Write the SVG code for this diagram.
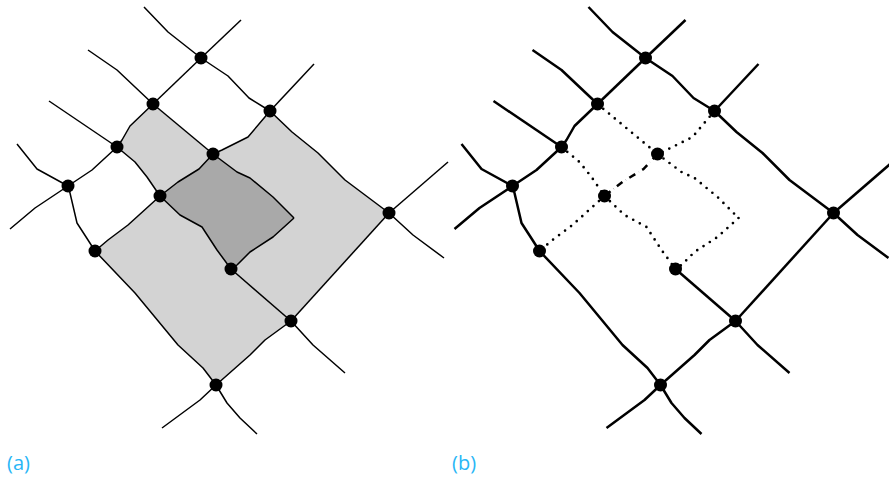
<svg xmlns="http://www.w3.org/2000/svg" xmlns:xlink="http://www.w3.org/1999/xlink" width="889" height="477" viewBox="0 0 889 477">
<style>
.a{fill:none;stroke:#000;stroke-width:1.5;stroke-linejoin:round}
.b{fill:none;stroke:#000;stroke-width:2.5;stroke-linejoin:round}
.dot{fill:none;stroke:#000;stroke-width:2.7;stroke-dasharray:0 7.5;stroke-linecap:round}
.dash{fill:none;stroke:#000;stroke-width:2.5;stroke-dasharray:7 4 0.1 4;stroke-linecap:butt}
.n{fill:#000}
.lbl{font-family:"Open Sans","Noto Sans",sans-serif;font-size:20px;fill:#29b6f6}
</style>
<defs>
<path id="eA1" d="M201,58 L168,32 L144,7"/>
<path id="eA2" d="M201,58 L241,20"/>
<path id="eAB" d="M201,58 L153,104"/>
<path id="eAC" d="M201,58 L228,76 L249,98 L270,111"/>
<path id="eC1" d="M270,111 L314,64"/>
<path id="eB1" d="M153,104 L117,70 L88,50"/>
<path id="eD1" d="M117,147 L49,101"/>
<path id="eBD" d="M153,104 L130,126 L122,140 L117,147"/>
<path id="eBE" d="M153,104 L213,154"/>
<path id="eCE" d="M270,111 L248,137 L222,150 L213,154"/>
<path id="eCH" d="M270,111 L292,132 L318,153 L345,180 L365,195 L389,213"/>
<path id="eH1" d="M389,213 L448,162"/>
<path id="eH2" d="M389,213 L413,235 L444,258"/>
<path id="eDF" d="M117,147 L92,170 L68,186"/>
<path id="eDG" d="M117,147 L135,162 L147,177 L160,196"/>
<path id="eF1" d="M68,186 L37,169 L17,144"/>
<path id="eF2" d="M68,186 L35,208 L10,229"/>
<path id="eFI" d="M68,186 L70,193 L77,223 L88,240 L95,251"/>
<path id="eEG" d="M213,154 L199,169 L178,182 L160,196"/>
<path id="eGI" d="M160,196 L128,225 L108,240 L95,251"/>
<path id="eEX" d="M213,154 L237,172 L250,178 L273,197 L294,218"/>
<path id="eXJ" d="M294,218 L273,237 L250,252 L237,265 L231,269"/>
<path id="eGJ" d="M160,196 L180,215 L202,227 L217,250 L231,269"/>
<path id="eJK" d="M231,269 L291,321"/>
<path id="eHK" d="M389,213 L291,321"/>
<path id="eIL" d="M95,251 L135,293 L178,345 L203,368 L216,385"/>
<path id="eKL" d="M291,321 L265,340 L250,355 L216,385"/>
<path id="eK1" d="M291,321 L313,345 L345,373"/>
<path id="eL1" d="M216,385 L200,400 L162,428"/>
<path id="eL2" d="M216,385 L227,403 L240,418 L257,434"/>
</defs>

<g id="regions">
<polygon fill="#d3d3d3" points="117,147 122,140 130,126 153,104 213,154 222,150 248,137 270,111 292,132 318,153 345,180 365,195 389,213 291,321 265,340 250,355 216,385 203,368 178,345 135,293 95,251 108,240 128,225 160,196 147,177 135,162"/>
<polygon fill="#a9a9a9" points="213,154 237,172 250,178 273,197 294,218 273,237 250,252 237,265 231,269 217,250 202,227 180,215 160,196 178,182 199,169"/>
</g>

<g id="connectors-a" class="a">
<use xlink:href="#eA1"/><use xlink:href="#eA2"/><use xlink:href="#eAB"/><use xlink:href="#eAC"/>
<use xlink:href="#eC1"/><use xlink:href="#eB1"/><use xlink:href="#eD1"/><use xlink:href="#eBD"/>
<use xlink:href="#eBE"/><use xlink:href="#eCE"/><use xlink:href="#eCH"/><use xlink:href="#eH1"/>
<use xlink:href="#eH2"/><use xlink:href="#eDF"/><use xlink:href="#eDG"/><use xlink:href="#eF1"/>
<use xlink:href="#eF2"/><use xlink:href="#eFI"/><use xlink:href="#eEG"/><use xlink:href="#eGI"/>
<use xlink:href="#eEX"/><use xlink:href="#eXJ"/><use xlink:href="#eGJ"/><use xlink:href="#eJK"/>
<use xlink:href="#eHK"/><use xlink:href="#eIL"/><use xlink:href="#eKL"/><use xlink:href="#eK1"/>
<use xlink:href="#eL1"/><use xlink:href="#eL2"/>
</g>

<g id="connectors-b" transform="translate(444.5,0)">
<g class="b">
<use xlink:href="#eA1"/><use xlink:href="#eA2"/><use xlink:href="#eAB"/><use xlink:href="#eAC"/>
<use xlink:href="#eC1"/><use xlink:href="#eB1"/><use xlink:href="#eD1"/><use xlink:href="#eBD"/>
<use xlink:href="#eCH"/><use xlink:href="#eH1"/><use xlink:href="#eH2"/><use xlink:href="#eDF"/>
<use xlink:href="#eF1"/><use xlink:href="#eF2"/><use xlink:href="#eFI"/><use xlink:href="#eJK"/>
<use xlink:href="#eHK"/><use xlink:href="#eIL"/><use xlink:href="#eKL"/><use xlink:href="#eK1"/>
<use xlink:href="#eL1"/><use xlink:href="#eL2"/>
</g>
<g class="dot">
<use xlink:href="#eBE"/><use xlink:href="#eCE"/><use xlink:href="#eDG"/><use xlink:href="#eGI"/>
<use xlink:href="#eEX"/><use xlink:href="#eXJ"/><use xlink:href="#eGJ"/>
</g>
<g class="dash"><use xlink:href="#eEG"/></g>
</g>

<g id="nodes-a" class="n">
<g id="a-A"><circle cx="201" cy="58" r="6.5"/></g>
<g id="a-B"><circle cx="153" cy="104" r="6.5"/></g>
<g id="a-C"><circle cx="270" cy="111" r="6.5"/></g>
<g id="a-D"><circle cx="117" cy="147" r="6.5"/></g>
<g id="a-E"><circle cx="213" cy="154" r="6.5"/></g>
<g id="a-F"><circle cx="68" cy="186" r="6.5"/></g>
<g id="a-G"><circle cx="160" cy="196" r="6.5"/></g>
<g id="a-H"><circle cx="389" cy="213" r="6.5"/></g>
<g id="a-I"><circle cx="95" cy="251" r="6.5"/></g>
<g id="a-J"><circle cx="231" cy="269" r="6.5"/></g>
<g id="a-K"><circle cx="291" cy="321" r="6.5"/></g>
<g id="a-L"><circle cx="216" cy="385" r="6.5"/></g>
</g>

<g id="nodes-b" class="n" transform="translate(444.5,0)">
<g id="b-A"><circle cx="201" cy="58" r="6.5"/></g>
<g id="b-B"><circle cx="153" cy="104" r="6.5"/></g>
<g id="b-C"><circle cx="270" cy="111" r="6.5"/></g>
<g id="b-D"><circle cx="117" cy="147" r="6.5"/></g>
<g id="b-E"><circle cx="213" cy="154" r="6.5"/></g>
<g id="b-F"><circle cx="68" cy="186" r="6.5"/></g>
<g id="b-G"><circle cx="160" cy="196" r="6.5"/></g>
<g id="b-H"><circle cx="389" cy="213" r="6.5"/></g>
<g id="b-I"><circle cx="95" cy="251" r="6.5"/></g>
<g id="b-J"><circle cx="231" cy="269" r="6.5"/></g>
<g id="b-K"><circle cx="291" cy="321" r="6.5"/></g>
<g id="b-L"><circle cx="216" cy="385" r="6.5"/></g>
</g>

<g id="labels">
<text class="lbl" x="7" y="470">(a)</text>
<text class="lbl" x="452" y="470">(b)</text>
</g>
</svg>
